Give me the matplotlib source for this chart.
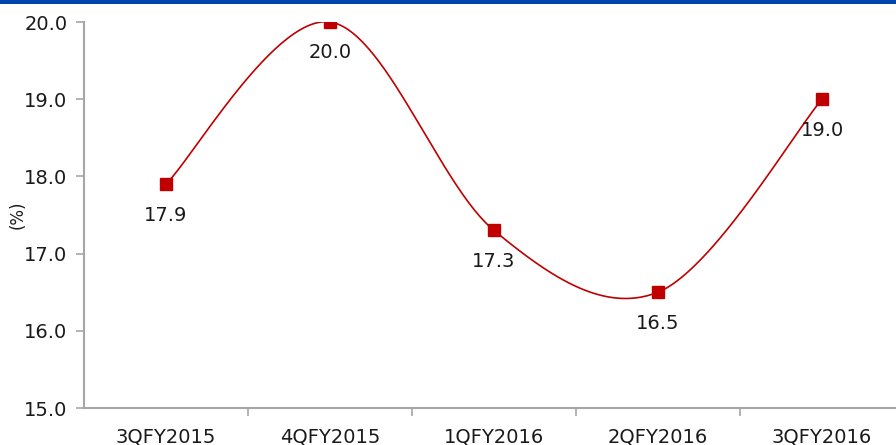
import numpy as np
import matplotlib.pyplot as plt
from matplotlib.ticker import FixedLocator, NullFormatter

quarters = ["3QFY2015", "4QFY2015", "1QFY2016", "2QFY2016", "3QFY2016"]
values = [17.9, 20.0, 17.3, 16.5, 19.0]

RED = "#C00000"
GREY = "#A6A6A6"
TEXT = "#1A1A1A"


def smooth(xs, ys, steps=60):
    """Catmull-Rom spline through the points (like a spreadsheet smoothed line)."""
    xs = np.asarray(xs, float)
    ys = np.asarray(ys, float)
    px = np.concatenate([[xs[0]], xs, [xs[-1]]])
    py = np.concatenate([[ys[0]], ys, [ys[-1]]])
    out_x, out_y = [], []
    t = np.linspace(0, 1, steps)
    for i in range(1, len(px) - 2):
        p0, p1, p2, p3 = (np.array([px[j], py[j]]) for j in range(i - 1, i + 3))
        c1 = p1 + (p2 - p0) / 6
        c2 = p2 - (p3 - p1) / 6
        b = ((1 - t) ** 3)[:, None] * p1 + (3 * (1 - t) ** 2 * t)[:, None] * c1 \
            + (3 * (1 - t) * t ** 2)[:, None] * c2 + (t ** 3)[:, None] * p2
        out_x.extend(b[:, 0])
        out_y.extend(b[:, 1])
    return np.array(out_x), np.array(out_y)


fig = plt.figure(figsize=(8.96, 4.45), dpi=100)
ax = fig.add_axes([84 / 896, 1 - 408 / 445, 820 / 896, 386 / 445])

# blue rule along the top edge
fig.add_artist(plt.Rectangle((0, 1 - 4 / 445), 1, 4 / 445, transform=fig.transFigure,
                             color="#0046AD", lw=0))

x = np.arange(len(quarters))
sx, sy = smooth(x, values)
ax.plot(sx, sy, color=RED, lw=1.2, zorder=2)
ax.plot(x, values, ls="none", marker="s", ms=8, color=RED, zorder=3)

for xi, v in zip(x, values):
    ax.annotate(f"{v:.1f}", (xi, v), xytext=(0, -31), textcoords="offset pixels",
                ha="center", va="center", fontsize=14, color=TEXT)

ax.set_xlim(-0.5, len(quarters) - 0.5)
ax.set_ylim(15, 20)
ax.set_yticks(np.arange(15, 20.01, 1))
ax.set_yticklabels([f"{t:.1f}" for t in np.arange(15, 20.01, 1)])
ax.set_xticks(x)
ax.set_xticklabels(quarters)
ax.xaxis.set_minor_locator(FixedLocator(np.arange(0.5, len(quarters) - 0.5, 1)))
ax.xaxis.set_minor_formatter(NullFormatter())

ax.tick_params(axis="x", which="major", length=0, pad=14, labelsize=14, labelcolor=TEXT)
ax.tick_params(axis="x", which="minor", length=6, width=1.2, color=GREY, direction="out")
ax.tick_params(axis="y", length=6, width=1.2, color=GREY, pad=6, labelsize=14,
               labelcolor=TEXT)

ax.set_ylabel("(%)", fontsize=12, color=TEXT, labelpad=-2)

for side in ("top", "right"):
    ax.spines[side].set_visible(False)
for side in ("left", "bottom"):
    ax.spines[side].set_color(GREY)
    ax.spines[side].set_linewidth(1.5)

fig.savefig("out.png", dpi=100)
